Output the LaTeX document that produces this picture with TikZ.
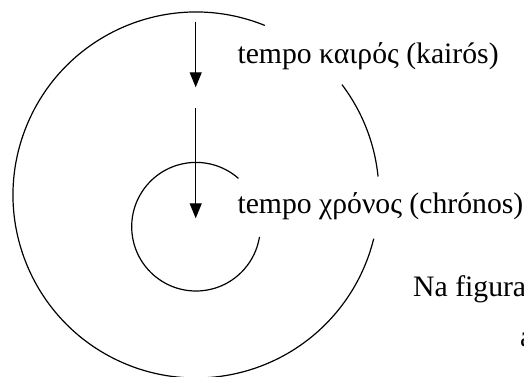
\documentclass[tikz,border=0pt]{standalone}
\usepackage{fontspec}
\setmainfont{Liberation Serif}
\usetikzlibrary{arrows.meta,calc}
\begin{document}
\begin{tikzpicture}[x=1pt,y=1pt,
  curve/.style={line width=1.2pt},
  arr/.style={line width=1.2pt,-{Triangle[width=12pt,length=15pt]}},
  lbl/.style={anchor=base west,inner sep=0pt,font=\fontsize{29.7}{34}\selectfont}]
\useasboundingbox (0,0) rectangle (524,376);
\clip (0,0) rectangle (524,376);
% centres
\coordinate (O) at (196,181);
\coordinate (I) at (196,149.3);
% outer circle pieces
\draw[curve] ($(O)+(67.9:183)$) arc[start angle=67.9,end angle=346.2,radius=183];
\draw[curve] ($(O)+(37.1:183)$) arc[start angle=37.1,end angle=5.8,radius=183];
% inner circle
\draw[curve] ($(I)+(48.7:64.3)$) arc[start angle=48.7,end angle=350.8,radius=64.3];
% arrows
\coordinate (a1s) at (195.7,354.3);
\coordinate (a1e) at (195.7,288.7);
\coordinate (a2s) at (195.7,268.3);
\coordinate (a2e) at (195.7,157.7);
\draw[arr] (a1s) -- (a1e);
\draw[arr] (a2s) -- (a2e);
% labels
\node[lbl] (kairos) at (237.3,312.7) {tempo καιρός (kairós)};
\node[lbl] (chronos) at (237.3,163) {tempo χρόνος (chrónos)};
\node[lbl] (fig) at (413,79.3) {Na figura};
\node[lbl] (a) at (520,30) {a};
\end{tikzpicture}
\end{document}
